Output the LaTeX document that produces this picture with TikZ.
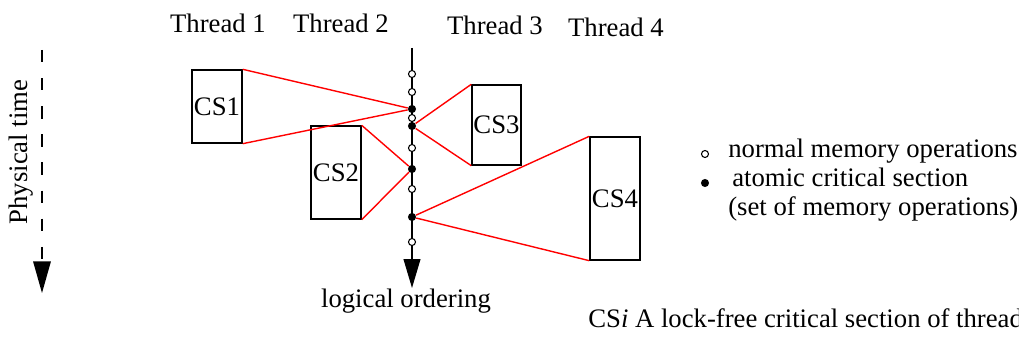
\documentclass[tikz,border=0pt]{standalone}
\usepackage{fontspec}
\setmainfont{Liberation Serif}
\usetikzlibrary{arrows.meta}
\definecolor{LinkRed}{HTML}{FF0000}

\begin{document}
\begin{tikzpicture}[x=0.02cm, y=-0.02cm,
    font=\fontsize{15.2}{18}\selectfont,
    csbox/.style={draw, line width=0.8pt, inner sep=0pt, minimum width=1cm},
    memop/.style={circle, draw, line width=0.6pt, fill=white, inner sep=0pt, minimum size=4pt},
    atomop/.style={circle, fill=black, inner sep=0pt, minimum size=4.6pt},
    label/.style={anchor=base west, inner sep=0pt},
    link/.style={LinkRed, line width=0.8pt}]
    \useasboundingbox (0,0) rectangle (1019,341);

    % Thread headers
    \node[anchor=base] (t1) at (218,33) {Thread 1};
    \node[anchor=base] (t2) at (341,33) {Thread 2};
    \node[anchor=base] (t3) at (495,35) {Thread 3};
    \node[anchor=base] (t4) at (616,37) {Thread 4};

    % Physical time
    \node[rotate=90] (phys) at (21,152) {Physical time};
    \coordinate (ptop) at (42,50);
    \coordinate (pend) at (42,293);
    \draw[line width=0.8pt, dash pattern=on 7pt off 9pt,
        -{Triangle[width=10pt, length=18pt]}] (ptop) -- (pend);

    % Logical ordering
    \coordinate (ltop) at (412,48);
    \coordinate (lend) at (412,288);
    \draw[line width=0.8pt, -{Triangle[width=9.6pt, length=16.5pt]}] (ltop) -- (lend);
    \node[anchor=base] (order) at (406,308) {logical ordering};

    % Critical sections
    \node[csbox, minimum height=1.46cm] (cs1) at (217,106.5) {CS1};
    \node[csbox, minimum height=1.86cm] (cs2) at (336,172.5) {CS2};
    \node[csbox, minimum height=1.6cm, minimum width=0.98cm] (cs3) at (496.5,125) {CS3};
    \node[csbox, minimum height=2.46cm] (cs4) at (615,198.5) {CS4};

    % Memory operations
    \foreach \y in {74,92,118,148,189,242}
        \node[memop] at (412,\y) {};
    \node[atomop] (a1) at (412,109) {};
    \node[atomop] (a2) at (412,126) {};
    \node[atomop] (a3) at (412,169) {};
    \node[atomop] (a4) at (412,217) {};

    % Links to the atomic points
    \draw[link] (cs1.north east) -- (a1) -- (cs1.south east);
    \draw[link] (cs2.north east) -- (a3) -- (cs2.south east);
    \draw[link] (cs3.north west) -- (a2) -- (cs3.south west);
    \draw[link] (cs4.north west) -- (a4) -- (cs4.south west);

    % Legend
    \node[memop] (lmem) at (705,154) {};
    \node[label] (lmemtxt) at (728,158) {normal memory operations};
    \node[atomop] (latom) at (705,183) {};
    \node[label] (latomtxt) at (732,187) {atomic critical section};
    \node[label] (lsettxt) at (728,215) {(set of memory operations)};

    % Note
    \node[label] (note) at (588,328) {CS\textit{i} A lock-free critical section of thread};
\end{tikzpicture}
\end{document}
